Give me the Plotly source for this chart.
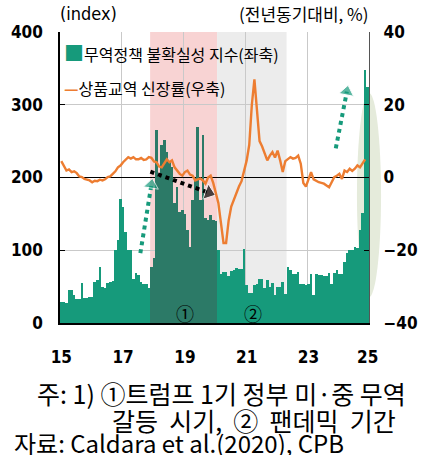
import numpy as np
import pandas as pd
import plotly.graph_objects as go

# ---------------- data ----------------
months = pd.date_range("2015-02-01", periods=120, freq="MS")

uncertainty_index = [
    29, 29, 27, 46, 46, 38, 33, 33, 55, 34, 34, 36,
    36, 57, 59, 77, 50, 48, 55, 57, 58, 100, 114, 170,
    160, 125, 100, 100, 60, 69, 66, 57, 53, 53, 48, 77,
    89, 265, 201, 245, 252, 235, 222, 215, 165, 187, 153, 155,
    150, 128, 105, 169, 200, 270, 169, 258, 144, 142, 148, 142,
    140, 100, 68, 70, 70, 64, 72, 73, 76, 74, 74, 102,
    52, 41, 41, 52, 54, 61, 61, 48, 59, 50, 55, 38,
    50, 50, 56, 40, 77, 73, 68, 68, 70, 54, 54, 52,
    54, 68, 38, 68, 66, 66, 65, 65, 69, 53, 69, 73,
    68, 68, 84, 96, 100, 100, 105, 103, 128, 151, 348, 325,
]

trade_growth = [
    4.5, 3.3, 1.9, 2.2, 1.5, 1.7, 1.2, 0.3, 0.1, -0.4, -0.6, -0.8,
    -1.3, -0.9, -1.0, -0.6, -0.8, -0.5, 0.1, 0.3, 1.0, 1.7, 2.8, 3.3,
    4.2, 4.8, 5.6, 5.2, 5.6, 5.0, 5.0, 5.4, 4.8, 5.0, 5.6, 5.4,
    4.4, 4.2, 3.0, 2.8, 3.8, 5.0, 4.2, 4.7, 2.8, 1.9, 1.0, 0.5,
    1.5, 1.9, 0.8, 0.5, -0.8, -0.5, -0.3, -0.8, -1.7, 0.0, 0.5, -1.5,
    -4.0, -7.0, -12.5, -18.0, -18.0, -11.8, -8.0, -6.0, -4.2, -2.5, -1.0, 2.0,
    4.7, 9.0, 20.0, 27.0, 18.0, 10.0, 8.5, 6.5, 4.7, 6.0, 7.0, 5.5,
    7.4, 4.7, 1.5, 4.5, 5.0, 5.6, 5.2, 5.4, 6.0, 3.8, -1.5, -2.5,
    -0.5, 1.5, -0.5, -1.0, -1.3, -1.5, -1.7, -2.2, -2.7, -1.3, 0.1, 0.5,
    1.0, -0.4, 1.9, 1.5, 2.4, 1.8, 2.4, 3.3, 2.8, 3.9, 5.0,
]

year_labels = ["15", "17", "19", "21", "23", "25"]
label_months = ["2015-02", "2017-02", "2019-02", "2021-02", "2023-02", "2025-01"]
grid_months = ["2017-02", "2019-02", "2021-02", "2023-02"]
trade_war = ("2018-01", "2020-02")
pandemic = ("2020-03", "2022-05")

# ---------------- helpers ----------------
def pos(m):
    return int(months.get_loc(pd.Timestamp(m + "-01")))

def wide(s):
    return s.replace(" ", " \u00a0")

x = np.arange(len(uncertainty_index))
xl = np.arange(len(trade_growth))

TEAL = "#169a7b"
TEAL_DARK = "#2c7a67"
ORANGE = "#ed7d31"
PINK = "#f8d3d3"
GREY = "#ececec"
NARROW = "Liberation Sans Narrow, Arial Narrow, DejaVu Sans Condensed, sans-serif"
KR = "Noto Sans CJK KR, Malgun Gothic, sans-serif"

tw0, tw1 = pos(trade_war[0]), pos(trade_war[1])
bar_colors = [TEAL_DARK if tw0 <= i <= tw1 else TEAL for i in x]

fig = go.Figure()

fig.add_trace(go.Bar(
    x=x, y=uncertainty_index, marker=dict(color=bar_colors, line=dict(width=0)),
    yaxis="y", showlegend=False, hoverinfo="skip",
))
fig.add_trace(go.Scatter(
    x=xl, y=trade_growth, mode="lines", line=dict(color=ORANGE, width=2.4),
    yaxis="y2", showlegend=False, hoverinfo="skip",
))

# dotted arrows (annotation marks)
def arrow(x0, y0, x1, y1, color, size):
    fig.add_trace(go.Scatter(
        x=[x0, x1], y=[y0, y1], mode="lines+markers", yaxis="y",
        line=dict(color=color, width=4, dash="dot"),
        marker=dict(symbol=["circle", "triangle-up"], size=[0, size],
                    color=color, angleref="previous"),
        showlegend=False, hoverinfo="skip",
    ))

arrow(30.7, 96, 35.0, 190, TEAL, 13)
arrow(34.6, 208, 57.3, 179, "#000000", 14)
arrow(106.6, 240, 110.9, 318, TEAL, 13)

shapes = []
# light green highlight ellipse
shapes.append(dict(type="circle", xref="paper", yref="paper",
                   x0=0.961, x1=1.039, y0=0.089, y1=0.79,
                   fillcolor="#e5ebdb", line=dict(width=0), layer="below"))
# shaded periods
shapes.append(dict(type="rect", xref="x", yref="paper",
                   x0=tw0 - 0.5, x1=tw1 + 0.5, y0=0, y1=1,
                   fillcolor=PINK, line=dict(width=0), layer="below"))
shapes.append(dict(type="rect", xref="x", yref="paper",
                   x0=pos(pandemic[0]) - 0.5, x1=pos(pandemic[1]) + 0.5, y0=0, y1=1,
                   fillcolor=GREY, line=dict(width=0), layer="below"))

annotations = []
annotations.append(dict(xref="paper", yref="paper", x=-0.005, y=1.062, xanchor="left",
                        yanchor="middle", text="(index)", showarrow=False,
                        font=dict(family=NARROW, size=18, color="#000")))
annotations.append(dict(xref="paper", yref="paper", x=1.005, y=1.062, xanchor="right",
                        yanchor="middle", text="(전년동기대비, %)", showarrow=False,
                        font=dict(family=KR, size=17, color="#000")))
annotations.append(dict(xref="paper", yref="paper", x=0.005, y=0.931, xanchor="left",
                        yanchor="middle",
                        text=f"<span style='color:{TEAL};font-size:20px'>■</span>무역정책 불확실성 지수(좌축)",
                        showarrow=False, font=dict(family=KR, size=16, color="#000")))
annotations.append(dict(xref="paper", yref="paper", x=0.005, y=0.808, xanchor="left",
                        yanchor="middle",
                        text=f"<span style='color:{ORANGE}'><b>—</b></span>상품교역 신장률(우축)",
                        showarrow=False, font=dict(family=KR, size=16, color="#000")))
annotations.append(dict(xref="x", yref="y", x=48.2, y=14, text="①", showarrow=False,
                        font=dict(family=KR, size=18, color="#000")))
annotations.append(dict(xref="x", yref="y", x=74.6, y=14, text="②", showarrow=False,
                        font=dict(family=KR, size=18, color="#000")))
annotations.append(dict(xref="paper", yref="paper", x=-0.081, y=-0.240, xanchor="left",
                        yanchor="middle", text="주: 1) ①트럼프 1기 정부 미·중 무역",
                        showarrow=False, font=dict(family=KR, size=25, color="#000")))
annotations.append(dict(xref="paper", yref="paper", x=0.162, y=-0.332, xanchor="left",
                        yanchor="middle", text=wide("갈등 시기, ② 팬데믹 기간"),
                        showarrow=False, font=dict(family=KR, size=25, color="#000")))
annotations.append(dict(xref="paper", yref="paper", x=-0.155, y=-0.410, xanchor="left",
                        yanchor="middle", text="자료: Caldara et al.(2020), CPB",
                        showarrow=False, font=dict(family=KR, size=24, color="#000")))

fig.update_layout(
    width=423, height=455,
    margin=dict(l=60, r=54, t=32, b=132, autoexpand=False),
    paper_bgcolor="white", plot_bgcolor="rgba(0,0,0,0)",
    bargap=0,
    shapes=shapes, annotations=annotations,
    xaxis=dict(
        automargin=False,
        range=[-0.5, len(x) - 0.5],
        tickvals=[pos(m) for m in label_months], ticktext=year_labels,
        showgrid=False, zeroline=False,
        showline=True, linecolor="#000", linewidth=1.5,
        ticks="", ticklabelstandoff=18,
        tickfont=dict(family=NARROW, size=17, color="#000", weight="bold"),
        minor=dict(tickvals=[pos(m) - 0.5 for m in grid_months], showgrid=True,
                   gridcolor="#c9c9c9", gridwidth=1, ticks=""),
    ),
    yaxis=dict(
        automargin=False,
        range=[0, 400], tickvals=[0, 100, 200, 300, 400],
        showgrid=True, gridcolor="#c9c9c9", gridwidth=1, zeroline=False,
        showline=True, linecolor="#000", linewidth=1.5,
        ticks="inside", ticklen=5, tickcolor="#000",
        ticklabelstandoff=12,
        tickfont=dict(family=NARROW, size=17, color="#000", weight="bold"),
    ),
    yaxis2=dict(
        automargin=False,
        range=[-40, 40], tickvals=[-40, -20, 0, 20, 40], overlaying="y", side="right",
        showgrid=False, zeroline=True, zerolinecolor="#000", zerolinewidth=1.3,
        showline=True, linecolor="#555", linewidth=1.2,
        ticks="inside", ticklen=5, tickcolor="#000",
        ticklabelstandoff=10,
        tickfont=dict(family=NARROW, size=17, color="#000", weight="bold"),
    ),
)

fig.write_html("out.html", config={"displayModeBar": False},
               post_script="document.body.style.margin='0';document.body.style.padding='0';")
